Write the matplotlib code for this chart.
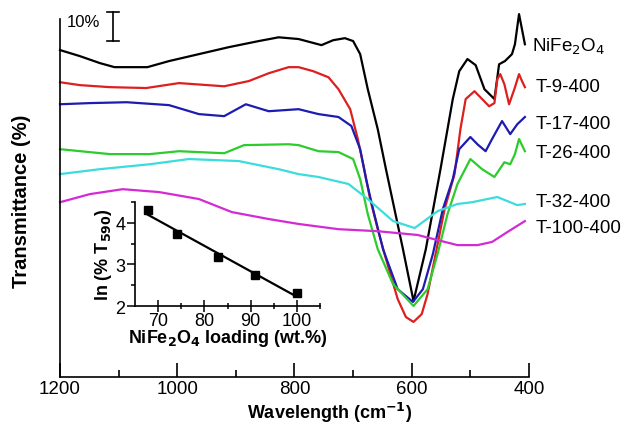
import matplotlib.pyplot as plt
import numpy as np

plt.rcParams["font.family"] = ["Liberation Sans", "DejaVu Sans"]

# FTIR spectra: wavenumber (cm-1) vs transmittance (%, curves offset)
wn_nife = [1200, 1166, 1132, 1107, 1051, 1014, 963, 912, 861, 827, 793, 754, 734, 714,
           700, 688, 675, 658, 644, 615, 597, 576, 551, 539, 530, 519, 505, 491, 476,
           459, 451, 441, 429, 424, 417, 412, 407]
t_nife = [112.8, 110.7, 108.3, 106.9, 106.9, 109.0, 111.4, 113.8, 115.9, 117.2, 116.6,
          114.5, 116.2, 116.9, 115.9, 111.4, 99.3, 85.5, 71.7, 44.1, 26.2, 44.1, 71.7,
          85.5, 95.9, 105.5, 109.7, 107.6, 99.3, 95.9, 107.9, 109.0, 111.4, 114.8, 125.2,
          120.0, 114.8]

wn_t9 = [1200, 1166, 1115, 1053, 997, 920, 878, 844, 810, 793, 768, 742, 725, 705, 692,
         681, 671, 658, 644, 624, 610, 597, 583, 573, 561, 544, 527, 517, 508, 493, 480,
         468, 459, 454, 449, 442, 434, 425, 417, 412, 407]
t_t9 = [101.7, 100.7, 100.0, 99.7, 101.4, 100.3, 102.1, 104.8, 106.9, 106.9, 105.5, 103.4,
        99.3, 92.4, 82.1, 71.7, 61.4, 51.0, 40.7, 26.9, 20.7, 19.0, 21.7, 28.6, 40.7, 57.9,
        70.0, 85.5, 95.9, 98.6, 95.9, 93.4, 94.5, 102.8, 104.5, 101.0, 94.1, 99.3, 104.5,
        102.1, 100.0]

wn_t17 = [1200, 1149, 1086, 1014, 963, 920, 883, 844, 793, 759, 725, 703, 688, 678, 666,
          649, 624, 598, 581, 564, 547, 530, 519, 500, 488, 474, 463, 446, 432, 420, 407]
t_t17 = [94.1, 94.5, 94.8, 93.8, 90.7, 90.0, 94.1, 91.7, 92.4, 90.7, 89.7, 86.6, 78.6,
         68.3, 57.9, 44.1, 30.3, 25.9, 30.3, 42.4, 57.9, 68.3, 78.6, 82.8, 80.3, 77.9,
         82.1, 88.3, 83.8, 87.2, 89.7]

wn_t26 = [1200, 1115, 1047, 997, 920, 886, 810, 793, 759, 725, 700, 688, 675, 658, 632,
          597, 573, 556, 539, 522, 500, 480, 459, 442, 432, 424, 417, 407]
t_t26 = [78.6, 76.9, 76.9, 77.9, 77.2, 80.0, 80.3, 80.0, 77.9, 77.6, 75.2, 68.3, 56.2,
         44.1, 32.1, 24.5, 30.3, 42.4, 56.2, 66.6, 75.2, 71.7, 69.0, 74.1, 73.4, 76.9,
         82.1, 77.9]

wn_t32 = [1200, 1132, 1047, 980, 895, 827, 793, 759, 708, 675, 632, 595, 556, 522, 497,
          471, 454, 437, 420, 407]
t_t32 = [70.0, 71.7, 73.4, 75.2, 74.5, 71.7, 70.0, 69.0, 66.6, 61.4, 53.8, 51.4, 57.2,
         59.7, 60.3, 61.4, 62.1, 60.7, 59.3, 59.7]

wn_t100 = [1200, 1149, 1093, 1031, 963, 907, 844, 793, 725, 658, 590, 522, 488, 463, 437, 407]
t_t100 = [60.3, 63.1, 64.8, 63.8, 61.4, 56.9, 54.5, 52.8, 51.0, 50.3, 49.0, 45.5, 45.5,
          46.6, 50.0, 53.8]

labels = ["NiFe$_2$O$_4$", "T-9-400", "T-17-400", "T-26-400", "T-32-400", "T-100-400"]
label_y = [114.1, 100.3, 87.6, 77.6, 60.7, 51.7]

# inset: ln(%T at 590) vs loading
loading = [67.8, 74.1, 82.9, 90.9, 100.0]
ln_t590 = [4.31, 3.74, 3.17, 2.74, 2.31]

series = [(wn_nife, t_nife), (wn_t9, t_t9), (wn_t17, t_t17),
          (wn_t26, t_t26), (wn_t32, t_t32), (wn_t100, t_t100)]
colors = ["black", "#dc2020", "#1c1cb0", "#2ccc2c", "#3cdcdc", "#d42ad4"]

fig = plt.figure(figsize=(6.29, 4.27), dpi=100)
ax = fig.add_axes([60 / 629, 49 / 427, 469 / 629, 371 / 427])

for (x, y), c in zip(series, colors):
    ax.plot(x, y, color=c, lw=1.6, clip_on=False)

ax.set_xlim(1200, 400)
ax.set_ylim(0, 128)
for s in ["top", "right"]:
    ax.spines[s].set_visible(False)
ax.spines["left"].set_bounds(0, 123.4)
ax.spines["left"].set_linewidth(1.2)
ax.spines["bottom"].set_linewidth(1.2)
ax.set_yticks([])
ax.set_xticks([1200, 1000, 800, 600, 400])
ax.set_xticks([1100, 900, 700, 500], minor=True)
ax.tick_params(axis="x", which="major", direction="in", length=10, width=1.2,
               labelsize=13.5, pad=2)
ax.tick_params(axis="x", which="minor", direction="in", length=5, width=1.2)

# 10% scale bar
ax.plot([1110, 1110], [115.9, 125.9], color="black", lw=1.2)
ax.plot([1100, 1120], [115.9, 115.9], color="black", lw=1.2)
ax.plot([1100, 1120], [125.9, 125.9], color="black", lw=1.2)
ax.text(1188, 122.8, "10%", fontsize=12, va="center", ha="left")

for i, (lab, ly) in enumerate(zip(labels, label_y)):
    xpos = 395 if i == 0 else 388
    ax.text(xpos, ly, lab, fontsize=13.5, va="center", ha="left", clip_on=False)

fig.text(330 / 629, 1 - 413 / 427, "Wavelength (cm$^{\\mathbf{-1}}$)", fontsize=13,
         fontweight="bold", ha="center", va="center")
fig.text(22 / 629, 1 - 201 / 427, "Transmittance (%)", fontsize=14.5, fontweight="bold",
         rotation=90, ha="center", va="center")

# inset
ins = fig.add_axes([135 / 629, 1 - 307 / 427, 185 / 629, 104 / 427])
ins.patch.set_alpha(0)
k, b = np.polyfit(loading, ln_t590, 1)
xf = np.array([min(loading), max(loading)])
ins.plot(xf, k * xf + b, color="black", lw=1.6)
ins.plot(loading, ln_t590, "s", color="black", ms=5.5)
ins.set_xlim(65, 105)
ins.set_ylim(2, 4.5)
for s in ["top", "right"]:
    ins.spines[s].set_visible(False)
ins.spines["left"].set_linewidth(1.2)
ins.spines["bottom"].set_linewidth(1.2)
ins.set_xticks([70, 80, 90, 100])
ins.set_xticks([75, 85, 95, 105], minor=True)
ins.set_yticks([2, 3, 4])
ins.set_yticks([2.5, 3.5, 4.5], minor=True)
ins.tick_params(axis="x", which="major", direction="inout", length=8, width=1.1,
                labelsize=13, pad=0)
ins.tick_params(axis="x", which="minor", direction="inout", length=5, width=1.1)
ins.tick_params(axis="y", which="major", direction="out", length=6, width=1.1,
                labelsize=13, pad=1)
ins.tick_params(axis="y", which="minor", direction="out", length=3, width=1.1)
ins.set_xlabel("NiFe$_\\mathbf{2}$O$_\\mathbf{4}$ loading (wt.%)", fontsize=13,
               fontweight="bold", labelpad=-1)
ins.set_ylabel("ln (% T$_{\\mathbf{590}}$)", fontsize=13, fontweight="bold", labelpad=1)

fig.savefig("out.png", dpi=100)
